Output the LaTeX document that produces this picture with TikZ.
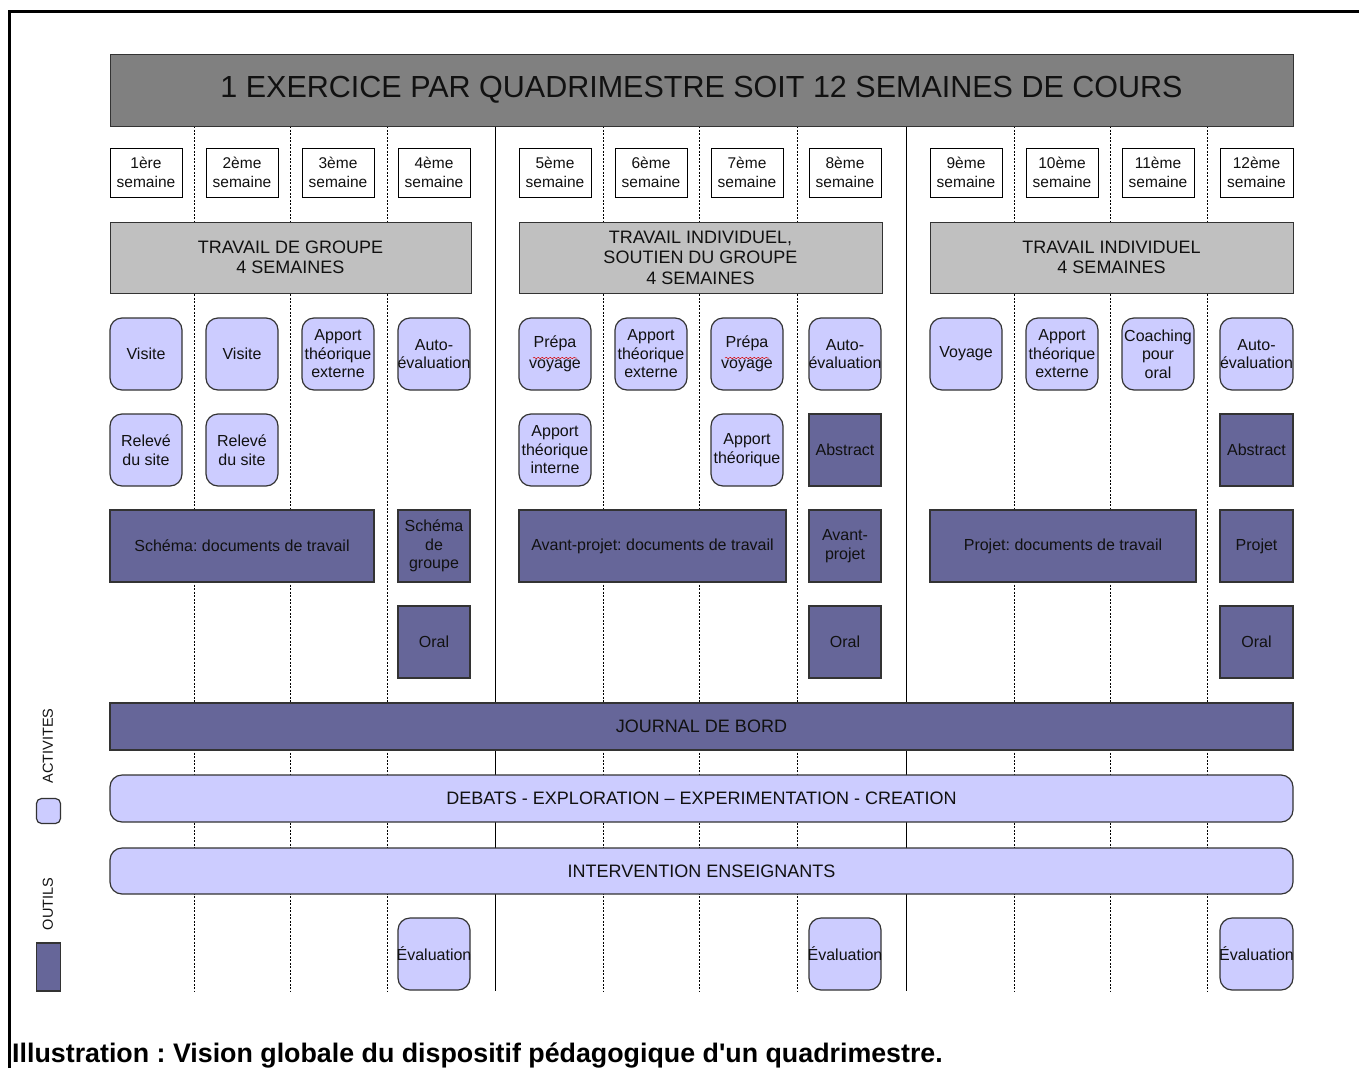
\documentclass[tikz,border=0pt]{standalone}
\usepackage{fontspec}
\setmainfont{Liberation Sans}
\frenchspacing
\usetikzlibrary{decorations.pathmorphing}
\definecolor{hdr}{HTML}{808080}
\definecolor{phasegray}{HTML}{C0C0C0}
\definecolor{lite}{HTML}{CCCCFF}
\definecolor{dark}{HTML}{666699}
\definecolor{lineclr}{HTML}{333333}
\definecolor{textc}{HTML}{111111}
\newcommand\myfs[2]{\fontsize{#1}{#2}\selectfont}
% [text style] name, style, x1, y1, x2, y2, text
\newcommand\bx[8][txt]{%
  \node[#3, minimum width={(#6-#4)*1pt}, minimum height={(#7-#5)*1pt}] (#2) at ({(#4+#6)/2},{(#5+#7)/2}) {};
  \node[#1] (#2-t) at (#2.center) {#8};}
\tikzset{
  boxbase/.style={inner sep=0pt, outer sep=0pt},
  act/.style={boxbase, draw=lineclr, fill=lite, rounded corners=12pt, line width=1.2pt},
  tool/.style={boxbase, draw=lineclr, fill=dark, line width=1.2pt},
  week/.style={boxbase, draw=black, fill=white, line width=1pt},
  phase/.style={boxbase, draw=lineclr, fill=phasegray, line width=1pt},
  head/.style={boxbase, draw=lineclr, fill=hdr, line width=1pt},
  txt/.style={align=center, inner sep=0pt, font=\myfs{16}{18.5}, text=textc},
  prtxt/.style={txt, font=\myfs{16}{20.5}},
  weektxt/.style={txt, font=\myfs{15.5}{18.5}},
  big/.style={txt, font=\myfs{18}{20.5}},
  huge/.style={txt, font=\myfs{30.5}{34}},
  dashv/.style={draw=black, line width=0.8pt, dash pattern=on 2pt off 1.5pt},
  solidv/.style={draw=black, line width=1pt},
  spell/.style={draw=red!85!black, line width=0.5pt, decorate, decoration={snake, segment length=4pt, amplitude=0.7pt}},
  legtxt/.style={rotate=90, inner sep=0pt, font=\myfs{14.5}{16}, text=textc}
}
\begin{document}
\begin{tikzpicture}[x=1pt,y=-1pt]
\useasboundingbox (0,0) rectangle (1359,1068);
% frame
\draw[line width=3pt] (9,1068) -- (9,11) -- (1359,11);
% vertical grid lines
\foreach \xx in {194,290,387,603,699,797,1014,1110,1207}
  \draw[dashv] (\xx,126) -- (\xx,991);
\foreach \xx in {495,906}
  \draw[solidv] (\xx,126) -- (\xx,991);
% header
\bx[huge]{head}{head}{110}{54}{1293}{126}{1 EXERCICE PAR QUADRIMESTRE SOIT 12 SEMAINES DE COURS}
% weeks
\bx[weektxt]{w1}{week}{110}{148}{182}{197}{1ère\\semaine}
\bx[weektxt]{w2}{week}{206}{148}{278}{197}{2ème\\semaine}
\bx[weektxt]{w3}{week}{302}{148}{374}{197}{3ème\\semaine}
\bx[weektxt]{w4}{week}{398}{148}{470}{197}{4ème\\semaine}
\bx[weektxt]{w5}{week}{519}{148}{591}{197}{5ème\\semaine}
\bx[weektxt]{w6}{week}{615}{148}{687}{197}{6ème\\semaine}
\bx[weektxt]{w7}{week}{711}{148}{783}{197}{7ème\\semaine}
\bx[weektxt]{w8}{week}{809}{148}{881}{197}{8ème\\semaine}
\bx[weektxt]{w9}{week}{930}{148}{1002}{197}{9ème\\semaine}
\bx[weektxt]{w10}{week}{1026}{148}{1098}{197}{10ème\\semaine}
\bx[weektxt]{w11}{week}{1122}{148}{1194}{197}{11ème\\semaine}
\bx[weektxt]{w12}{week}{1220}{148}{1293}{197}{12ème\\semaine}
% phases
\bx[big]{ph1}{phase}{110}{222}{471}{293}{TRAVAIL DE GROUPE\\4 SEMAINES}
\bx[big]{ph2}{phase}{519}{222}{882}{293}{TRAVAIL INDIVIDUEL,\\SOUTIEN DU GROUPE\\4 SEMAINES}
\bx[big]{ph3}{phase}{930}{222}{1293}{293}{TRAVAIL INDIVIDUEL\\4 SEMAINES}
% row 1
\bx{a1}{act}{110}{318}{182}{390}{Visite}
\bx{a2}{act}{206}{318}{278}{390}{Visite}
\bx{a3}{act}{302}{318}{374}{390}{Apport\\théorique\\externe}
\bx{a4}{act}{398}{318}{470}{390}{Auto-\\évaluation}
\bx[prtxt]{a5}{act}{519}{318}{591}{390}{Prépa\\voyage}
\bx{a6}{act}{615}{318}{687}{390}{Apport\\théorique\\externe}
\bx[prtxt]{a7}{act}{711}{318}{783}{390}{Prépa\\voyage}
\bx{a8}{act}{809}{318}{881}{390}{Auto-\\évaluation}
\bx{a9}{act}{930}{318}{1002}{390}{Voyage}
\bx{a10}{act}{1026}{318}{1098}{390}{Apport\\théorique\\externe}
\bx{a11}{act}{1122}{318}{1194}{390}{Coaching\\pour\\oral}
\bx{a12}{act}{1220}{318}{1293}{390}{Auto-\\évaluation}
\draw[spell] ([xshift=-22pt,yshift=-4pt]a5.center) -- ++(44,0);
\draw[spell] ([xshift=-22pt,yshift=-4pt]a7.center) -- ++(44,0);
% row 2
\bx{b1}{act}{110}{414}{182}{486}{Relevé\\du site}
\bx{b2}{act}{206}{414}{278}{486}{Relevé\\du site}
\bx{b5}{act}{519}{414}{591}{486}{Apport\\théorique\\interne}
\bx{b7}{act}{711}{414}{783}{486}{Apport\\théorique}
\bx{b8}{tool}{809}{414}{881}{486}{Abstract}
\bx{b12}{tool}{1220}{414}{1293}{486}{Abstract}
% row 3
\bx{c1}{tool}{110}{510}{374}{582}{Schéma: documents de travail}
\bx{c4}{tool}{398}{510}{470}{582}{Schéma\\de\\groupe}
\bx{c5}{tool}{519}{510}{786}{582}{Avant-projet: documents de travail}
\bx{c8}{tool}{809}{510}{881}{582}{Avant-\\projet}
\bx{c9}{tool}{930}{510}{1196}{582}{Projet: documents de travail}
\bx{c12}{tool}{1220}{510}{1293}{582}{Projet}
% row 4
\bx{d4}{tool}{398}{606}{470}{678}{Oral}
\bx{d8}{tool}{809}{606}{881}{678}{Oral}
\bx{d12}{tool}{1220}{606}{1293}{678}{Oral}
% long bars
\bx[big]{jb}{tool}{110}{703}{1293}{750}{JOURNAL DE BORD}
\bx[big]{deb}{act}{110}{775}{1293}{822}{DEBATS - EXPLORATION – EXPERIMENTATION - CREATION}
\bx[big]{int}{act}{110}{848}{1293}{894}{INTERVENTION ENSEIGNANTS}
% evaluations
\bx{e4}{act}{398}{918}{470}{990}{Évaluation}
\bx{e8}{act}{809}{918}{881}{990}{Évaluation}
\bx{e12}{act}{1220}{918}{1293}{990}{Évaluation}
% legend
\node[legtxt] (legA) at (48,746) {ACTIVITES};
\node[act, rounded corners=5pt, minimum width=24pt, minimum height=25pt] (legAbox) at (48.5,811) {};
\node[legtxt] (legO) at (48,904) {OUTILS};
\node[tool, minimum width=24pt, minimum height=48pt] (legObox) at (48.5,967) {};
% caption
\node[anchor=base west, inner sep=0pt, font=\bfseries\myfs{26.8}{30}] (cap) at (12,1062) {Illustration : Vision globale du dispositif pédagogique d\textquotesingle un quadrimestre.};
\end{tikzpicture}
\end{document}
